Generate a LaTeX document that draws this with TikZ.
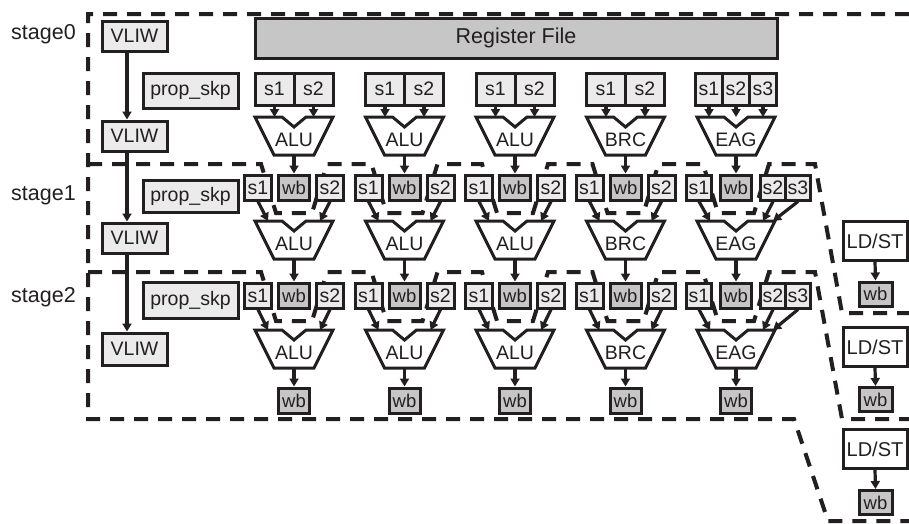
\documentclass[tikz,border=0pt]{standalone}
\usepackage{fontspec}
\setmainfont{Liberation Sans}
\usetikzlibrary{arrows.meta,calc}
\definecolor{ink}{HTML}{231F20}
\definecolor{boxgray}{HTML}{EBEBEB}
\definecolor{wbgray}{HTML}{C6C6C6}

\begin{document}
\begin{tikzpicture}[x=1pt,y=-1pt,
  box/.style={draw=ink, line width=3pt, inner sep=0pt, text=ink,
    font=\fontsize{19.5}{19.5}\selectfont},
  lbox/.style={box, fill=boxgray},
  gbox/.style={box, fill=wbgray},
  wbox/.style={box, fill=white},
  srcbox/.style={lbox, minimum height=25pt, minimum width=27pt},
  wbbox/.style={gbox, minimum height=25pt, minimum width=31pt,
    font=\fontsize{18.5}{18.5}\selectfont},
  arr/.style={draw=ink, line width=3.2pt, -{Triangle[length=8pt,width=9pt]}},
  stageline/.style={draw=ink, line width=4pt, dash pattern=on 14pt off 10pt},
  fu/.style={draw=ink, line width=3pt, fill=white, line join=miter},
  fulbl/.style={inner sep=0pt, text=ink, font=\fontsize{19.5}{19.5}\selectfont},
  lbl/.style={inner sep=0pt, text=ink, font=\fontsize{21.5}{21.5}\selectfont},
]
\useasboundingbox (0,0) rectangle (909,523);

% ---- pipeline stage borders ----
\draw[stageline] (909,14) -- (88,14) -- (88,419) -- (794,419) -- (828,521) -- (909,521);
\draw[stageline] (88,164)
  \foreach \c in {294,404.5,515,625.5,736} {
    -- (\c-33,164) -- (\c-18,213) -- (\c+18,213) -- (\c+33,164) }
  -- (815,164) -- (842,313) -- (909,313);
\draw[stageline] (88,272)
  \foreach \c in {294,404.5,515,625.5,736} {
    -- (\c-33,272) -- (\c-18,321) -- (\c+18,321) -- (\c+33,272) }
  -- (815,272) -- (842,419) -- (909,419);

% ---- stage labels ----
\node[lbl, anchor=base west] (st0) at (11,39) {stage0};
\node[lbl, anchor=base west] (st1) at (11,200) {stage1};
\node[lbl, anchor=base west] (st2) at (11,302) {stage2};

% ---- instruction column ----
\node[lbox, minimum width=65pt, minimum height=30pt] (v0) at (134.5,36) {VLIW};
\node[lbox, minimum width=65pt, minimum height=30pt] (v1) at (134.5,136) {VLIW};
\node[lbox, minimum width=65pt, minimum height=30pt] (v2) at (134.5,238) {VLIW};
\node[lbox, minimum width=65pt, minimum height=32pt] (v3) at (134.5,349) {VLIW};
\foreach \a/\b in {v0/v1, v1/v2, v2/v3}
  \draw[arr] ([xshift=-7.5pt]\a.south) -- ([xshift=-7.5pt]\b.north);

\node[lbox, minimum width=95pt, minimum height=35pt] (pk0) at (190.5,90.5) {prop\_skp};
\node[lbox, minimum width=95pt, minimum height=32pt] (pk1) at (190.5,196) {prop\_skp};
\node[lbox, minimum width=95pt, minimum height=36pt] (pk2) at (190.5,300) {prop\_skp};

% ---- register file ----
\node[gbox, minimum width=522pt, minimum height=40pt,
  font=\fontsize{21.5}{21.5}\selectfont] (rf) at (516,38) {Register File};

% ---- functional unit columns ----
\foreach \k/\c/\ty in {1/294/ALU, 2/404.5/ALU, 3/515/ALU, 4/625.5/BRC, 5/736/EAG} {
  % units of the three stages (top edges 117, 221, 330)
  \foreach \s/\t in {0/117, 1/221, 2/330} {
    \draw[fu] (\c-39,\t) -- (\c-12,\t) -- (\c,\t+10) -- (\c+12,\t) -- (\c+39,\t)
      -- (\c+20,\t+38) -- (\c-20,\t+38) -- cycle;
    \coordinate (fu\s-\k-t) at (\c,\t);
    \coordinate (fu\s-\k-b) at (\c,\t+38);
    \node[fulbl] (fn\s-\k) at (\c,\t+23) {\ty};
  }
  % write-back boxes after each unit
  \node[wbbox] (rb\k-w) at (\c,187.5) {wb};
  \node[wbbox] (rc\k-w) at (\c,295.5) {wb};
  \node[wbbox] (rd\k-w) at (\c,400.5) {wb};
  \draw[arr] (fu0-\k-b) -- (rb\k-w.north);
  \draw[arr] (fu1-\k-b) -- (rc\k-w.north);
  \draw[arr] (fu2-\k-b) -- (rd\k-w.north);
  \ifnum\k=5
    % three-operand unit
    \node[srcbox, minimum height=32pt] (ra\k-1) at (\c-27,89) {s1};
    \node[srcbox, minimum height=32pt] (ra\k-2) at (\c,89) {s2};
    \node[srcbox, minimum height=32pt] (ra\k-3) at (\c+27,89) {s3};
    \foreach \i in {1,2,3}
      \draw[arr] (ra\k-\i.south) -- (ra\k-\i.south |- fu0-\k-t);
    \foreach \r/\y/\s in {rb/187.5/1, rc/295.5/2} {
      \node[srcbox, minimum width=25pt] (\r\k-1) at (\c-37,\y) {s1};
      \node[srcbox, minimum width=25pt] (\r\k-2) at (\c+37,\y) {s2};
      \node[srcbox, minimum width=25pt] (\r\k-3) at (\c+62,\y) {s3};
      \draw[arr] (\r\k-1.south) -- ($(fu\s-\k-t)+(-26,0)$);
      \draw[arr] (\r\k-2.south) -- ($(fu\s-\k-t)+(27,0)$);
      \draw[arr] (\r\k-3.south) -- ($(fu\s-\k-t)+(37,0)$);
    }
  \else
    % two-operand unit
    \node[srcbox, minimum width=39pt, minimum height=32pt] (ra\k-1) at (\c-19.5,89) {s1};
    \node[srcbox, minimum width=39pt, minimum height=32pt] (ra\k-2) at (\c+19.5,89) {s2};
    \foreach \i in {1,2}
      \draw[arr] (ra\k-\i.south) -- (ra\k-\i.south |- fu0-\k-t);
    \foreach \r/\y/\s in {rb/187.5/1, rc/295.5/2} {
      \node[srcbox] (\r\k-1) at (\c-36,\y) {s1};
      \node[srcbox] (\r\k-2) at (\c+36,\y) {s2};
      \draw[arr] (\r\k-1.south) -- ($(fu\s-\k-t)+(-26,0)$);
      \draw[arr] (\r\k-2.south) -- ($(fu\s-\k-t)+(26,0)$);
    }
  \fi
}

% ---- load/store units ----
\foreach \i/\y/\w in {1/241/294, 2/347/399.5, 3/449/502.5} {
  \node[wbox, minimum width=64pt, minimum height=39pt,
    font=\fontsize{20}{20}\selectfont] (ls\i) at (875,\y) {LD/ST};
  \node[wbbox, minimum width=33pt, minimum height=24pt] (lw\i) at (875.5,\w) {wb};
  \draw[arr] (ls\i.south) -- (lw\i.north);
}
\end{tikzpicture}
\end{document}
